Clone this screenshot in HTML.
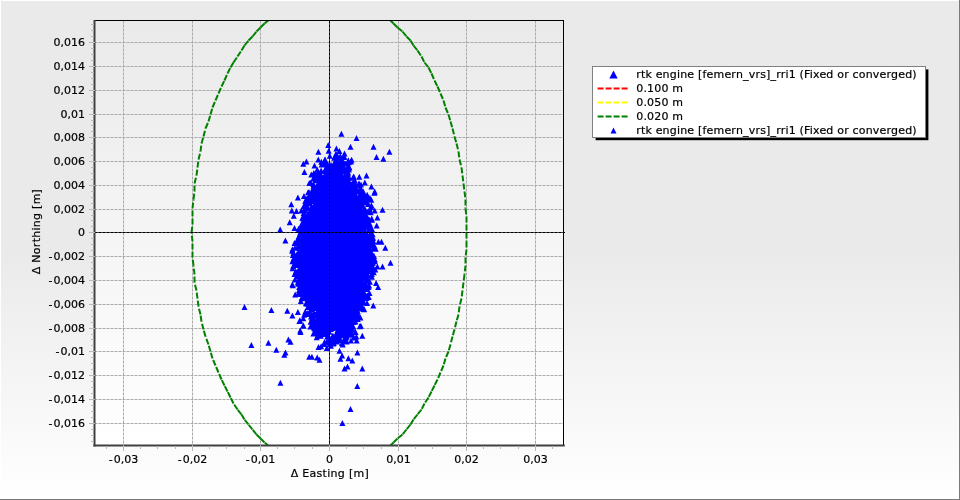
<!DOCTYPE html>
<html lang="en">
<head>
<meta charset="utf-8">
<title>Position scatter plot</title>
<style>
html,body{margin:0;padding:0;background:#fff;}
body{width:960px;height:500px;overflow:hidden;position:relative;font-family:"DejaVu Sans","Liberation Sans",sans-serif;}
svg{display:block;position:absolute;left:0;top:0;}
text{font-family:"DejaVu Sans","Liberation Sans",sans-serif;font-size:11px;fill:#000;stroke:#000;stroke-width:0.2px;}
.ls text{letter-spacing:0.19px;}
</style>
</head>
<body>
<svg width="960" height="500" viewBox="0 0 960 500">
<defs>
<linearGradient id="bg" x1="0" y1="0" x2="0" y2="1">
<stop offset="0" stop-color="#eaeaea"/>
<stop offset="0.5" stop-color="#eaeaea"/>
<stop offset="1" stop-color="#ffffff"/>
</linearGradient>
<linearGradient id="pbg" x1="0" y1="0" x2="0" y2="1">
<stop offset="0" stop-color="#eaeaea"/>
<stop offset="1" stop-color="#ffffff"/>
</linearGradient>
<clipPath id="clip"><rect x="95.0" y="20.0" width="468.0" height="425.0"/></clipPath>
</defs>
<rect x="0" y="0" width="960" height="500" fill="url(#bg)"/>
<rect x="0" y="0" width="960" height="1" fill="#ffffff"/>
<rect x="0" y="0" width="1" height="500" fill="#ffffff"/>
<rect x="0" y="499" width="960" height="1" fill="#7a7a7a"/>
<rect x="959" y="0" width="1" height="500" fill="#7a7a7a"/>
<rect x="95.0" y="20.0" width="468.0" height="425.0" fill="url(#pbg)"/>
<g stroke="#aaaaaa" stroke-width="1" stroke-dasharray="3 1" stroke-dashoffset="0.5" fill="none"><line x1="123.5" y1="20.5" x2="123.5" y2="445" stroke-dashoffset="0"/><line x1="192.5" y1="20.5" x2="192.5" y2="445" stroke-dashoffset="0"/><line x1="260.5" y1="20.5" x2="260.5" y2="445" stroke-dashoffset="0"/><line x1="398.5" y1="20.5" x2="398.5" y2="445" stroke-dashoffset="0"/><line x1="466.5" y1="20.5" x2="466.5" y2="445" stroke-dashoffset="0"/><line x1="535.5" y1="20.5" x2="535.5" y2="445" stroke-dashoffset="0"/><line x1="95" y1="423.5" x2="563" y2="423.5"/><line x1="95" y1="399.5" x2="563" y2="399.5"/><line x1="95" y1="375.5" x2="563" y2="375.5"/><line x1="95" y1="351.5" x2="563" y2="351.5"/><line x1="95" y1="328.5" x2="563" y2="328.5"/><line x1="95" y1="304.5" x2="563" y2="304.5"/><line x1="95" y1="280.5" x2="563" y2="280.5"/><line x1="95" y1="256.5" x2="563" y2="256.5"/><line x1="95" y1="209.5" x2="563" y2="209.5"/><line x1="95" y1="185.5" x2="563" y2="185.5"/><line x1="95" y1="161.5" x2="563" y2="161.5"/><line x1="95" y1="137.5" x2="563" y2="137.5"/><line x1="95" y1="114.5" x2="563" y2="114.5"/><line x1="95" y1="90.5" x2="563" y2="90.5"/><line x1="95" y1="66.5" x2="563" y2="66.5"/><line x1="95" y1="42.5" x2="563" y2="42.5"/></g>
<g stroke="#000" stroke-width="1" stroke-dasharray="3 1" stroke-dashoffset="0.5">
<line x1="95.0" y1="232.5" x2="563.0" y2="232.5"/>
<line x1="329.5" y1="20.5" x2="329.5" y2="445.0" stroke-dashoffset="0"/>
</g>
<g clip-path="url(#clip)">
<g fill="none" stroke="#008000" stroke-width="2" stroke-dasharray="6 2"><line x1="466.5" y1="232.5" x2="466.5" y2="241.5"/><line x1="466.5" y1="241.5" x2="466.5" y2="249.5"/><line x1="466.5" y1="249.5" x2="465.5" y2="257.5"/><line x1="465.5" y1="257.5" x2="465.5" y2="265.5"/><line x1="465.5" y1="265.5" x2="464.5" y2="274.5"/><line x1="464.5" y1="274.5" x2="463.5" y2="282.5"/><line x1="463.5" y1="282.5" x2="462.5" y2="290.5"/><line x1="462.5" y1="290.5" x2="461.5" y2="298.5"/><line x1="461.5" y1="298.5" x2="459.5" y2="306.5"/><line x1="459.5" y1="306.5" x2="458.5" y2="314.5"/><line x1="458.5" y1="314.5" x2="456.5" y2="321.5"/><line x1="456.5" y1="321.5" x2="454.5" y2="329.5"/><line x1="454.5" y1="329.5" x2="452.5" y2="336.5"/><line x1="452.5" y1="336.5" x2="450.5" y2="344.5"/><line x1="450.5" y1="344.5" x2="448.5" y2="351.5"/><line x1="448.5" y1="351.5" x2="445.5" y2="358.5"/><line x1="445.5" y1="358.5" x2="443.5" y2="365.5"/><line x1="443.5" y1="365.5" x2="440.5" y2="372.5"/><line x1="440.5" y1="372.5" x2="437.5" y2="379.5"/><line x1="437.5" y1="379.5" x2="434.5" y2="385.5"/><line x1="434.5" y1="385.5" x2="431.5" y2="391.5"/><line x1="431.5" y1="391.5" x2="428.5" y2="397.5"/><line x1="428.5" y1="397.5" x2="424.5" y2="403.5"/><line x1="424.5" y1="403.5" x2="421.5" y2="409.5"/><line x1="421.5" y1="409.5" x2="417.5" y2="414.5"/><line x1="417.5" y1="414.5" x2="413.5" y2="419.5"/><line x1="413.5" y1="419.5" x2="410.5" y2="424.5"/><line x1="410.5" y1="424.5" x2="406.5" y2="429.5"/><line x1="406.5" y1="429.5" x2="402.5" y2="434.5"/><line x1="402.5" y1="434.5" x2="397.5" y2="438.5"/><line x1="397.5" y1="438.5" x2="393.5" y2="442.5"/><line x1="393.5" y1="442.5" x2="389.5" y2="446.5"/><line x1="389.5" y1="446.5" x2="385.5" y2="449.5"/><line x1="273.5" y1="449.5" x2="269.5" y2="446.5"/><line x1="269.5" y1="446.5" x2="264.5" y2="442.5"/><line x1="264.5" y1="442.5" x2="260.5" y2="438.5"/><line x1="260.5" y1="438.5" x2="256.5" y2="434.5"/><line x1="256.5" y1="434.5" x2="252.5" y2="429.5"/><line x1="252.5" y1="429.5" x2="248.5" y2="424.5"/><line x1="248.5" y1="424.5" x2="244.5" y2="419.5"/><line x1="244.5" y1="419.5" x2="241.5" y2="414.5"/><line x1="241.5" y1="414.5" x2="237.5" y2="409.5"/><line x1="237.5" y1="409.5" x2="233.5" y2="403.5"/><line x1="233.5" y1="403.5" x2="230.5" y2="397.5"/><line x1="230.5" y1="397.5" x2="227.5" y2="391.5"/><line x1="227.5" y1="391.5" x2="224.5" y2="385.5"/><line x1="224.5" y1="385.5" x2="221.5" y2="379.5"/><line x1="221.5" y1="379.5" x2="218.5" y2="372.5"/><line x1="218.5" y1="372.5" x2="215.5" y2="365.5"/><line x1="215.5" y1="365.5" x2="212.5" y2="358.5"/><line x1="212.5" y1="358.5" x2="210.5" y2="351.5"/><line x1="210.5" y1="351.5" x2="208.5" y2="344.5"/><line x1="208.5" y1="344.5" x2="205.5" y2="336.5"/><line x1="205.5" y1="336.5" x2="203.5" y2="329.5"/><line x1="203.5" y1="329.5" x2="201.5" y2="321.5"/><line x1="201.5" y1="321.5" x2="200.5" y2="314.5"/><line x1="200.5" y1="314.5" x2="198.5" y2="306.5"/><line x1="198.5" y1="306.5" x2="197.5" y2="298.5"/><line x1="197.5" y1="298.5" x2="196.5" y2="290.5"/><line x1="196.5" y1="290.5" x2="194.5" y2="282.5"/><line x1="194.5" y1="282.5" x2="194.5" y2="274.5"/><line x1="194.5" y1="274.5" x2="193.5" y2="265.5"/><line x1="193.5" y1="265.5" x2="192.5" y2="257.5"/><line x1="192.5" y1="257.5" x2="192.5" y2="249.5"/><line x1="192.5" y1="249.5" x2="192.5" y2="241.5"/><line x1="192.5" y1="241.5" x2="191.5" y2="232.5"/><line x1="191.5" y1="232.5" x2="192.5" y2="224.5"/><line x1="192.5" y1="224.5" x2="192.5" y2="216.5"/><line x1="192.5" y1="216.5" x2="192.5" y2="208.5"/><line x1="192.5" y1="208.5" x2="193.5" y2="199.5"/><line x1="193.5" y1="199.5" x2="194.5" y2="191.5"/><line x1="194.5" y1="191.5" x2="194.5" y2="183.5"/><line x1="194.5" y1="183.5" x2="196.5" y2="175.5"/><line x1="196.5" y1="175.5" x2="197.5" y2="167.5"/><line x1="197.5" y1="167.5" x2="198.5" y2="159.5"/><line x1="198.5" y1="159.5" x2="200.5" y2="151.5"/><line x1="200.5" y1="151.5" x2="201.5" y2="143.5"/><line x1="201.5" y1="143.5" x2="203.5" y2="136.5"/><line x1="203.5" y1="136.5" x2="205.5" y2="128.5"/><line x1="205.5" y1="128.5" x2="208.5" y2="121.5"/><line x1="208.5" y1="121.5" x2="210.5" y2="114.5"/><line x1="210.5" y1="114.5" x2="212.5" y2="107.5"/><line x1="212.5" y1="107.5" x2="215.5" y2="100.5"/><line x1="215.5" y1="100.5" x2="218.5" y2="93.5"/><line x1="218.5" y1="93.5" x2="221.5" y2="86.5"/><line x1="221.5" y1="86.5" x2="224.5" y2="80.5"/><line x1="224.5" y1="80.5" x2="227.5" y2="73.5"/><line x1="227.5" y1="73.5" x2="230.5" y2="67.5"/><line x1="230.5" y1="67.5" x2="233.5" y2="62.5"/><line x1="233.5" y1="62.5" x2="237.5" y2="56.5"/><line x1="237.5" y1="56.5" x2="241.5" y2="50.5"/><line x1="241.5" y1="50.5" x2="244.5" y2="45.5"/><line x1="244.5" y1="45.5" x2="248.5" y2="40.5"/><line x1="248.5" y1="40.5" x2="252.5" y2="36.5"/><line x1="252.5" y1="36.5" x2="256.5" y2="31.5"/><line x1="256.5" y1="31.5" x2="260.5" y2="27.5"/><line x1="260.5" y1="27.5" x2="264.5" y2="23.5"/><line x1="264.5" y1="23.5" x2="269.5" y2="19.5"/><line x1="269.5" y1="19.5" x2="273.5" y2="15.5"/><line x1="385.5" y1="15.5" x2="389.5" y2="19.5"/><line x1="389.5" y1="19.5" x2="393.5" y2="23.5"/><line x1="393.5" y1="23.5" x2="397.5" y2="27.5"/><line x1="397.5" y1="27.5" x2="402.5" y2="31.5"/><line x1="402.5" y1="31.5" x2="406.5" y2="36.5"/><line x1="406.5" y1="36.5" x2="410.5" y2="40.5"/><line x1="410.5" y1="40.5" x2="413.5" y2="45.5"/><line x1="413.5" y1="45.5" x2="417.5" y2="50.5"/><line x1="417.5" y1="50.5" x2="421.5" y2="56.5"/><line x1="421.5" y1="56.5" x2="424.5" y2="62.5"/><line x1="424.5" y1="62.5" x2="428.5" y2="67.5"/><line x1="428.5" y1="67.5" x2="431.5" y2="73.5"/><line x1="431.5" y1="73.5" x2="434.5" y2="80.5"/><line x1="434.5" y1="80.5" x2="437.5" y2="86.5"/><line x1="437.5" y1="86.5" x2="440.5" y2="93.5"/><line x1="440.5" y1="93.5" x2="443.5" y2="100.5"/><line x1="443.5" y1="100.5" x2="445.5" y2="107.5"/><line x1="445.5" y1="107.5" x2="448.5" y2="114.5"/><line x1="448.5" y1="114.5" x2="450.5" y2="121.5"/><line x1="450.5" y1="121.5" x2="452.5" y2="128.5"/><line x1="452.5" y1="128.5" x2="454.5" y2="136.5"/><line x1="454.5" y1="136.5" x2="456.5" y2="143.5"/><line x1="456.5" y1="143.5" x2="458.5" y2="151.5"/><line x1="458.5" y1="151.5" x2="459.5" y2="159.5"/><line x1="459.5" y1="159.5" x2="461.5" y2="167.5"/><line x1="461.5" y1="167.5" x2="462.5" y2="175.5"/><line x1="462.5" y1="175.5" x2="463.5" y2="183.5"/><line x1="463.5" y1="183.5" x2="464.5" y2="191.5"/><line x1="464.5" y1="191.5" x2="465.5" y2="199.5"/><line x1="465.5" y1="199.5" x2="465.5" y2="208.5"/><line x1="465.5" y1="208.5" x2="466.5" y2="216.5"/><line x1="466.5" y1="216.5" x2="466.5" y2="224.5"/><line x1="466.5" y1="224.5" x2="466.5" y2="232.5"/></g>
<g fill="#0000ff">
<polygon points="337.0,170.0 335.5,172.0 333.0,174.0 330.5,176.0 327.5,178.0 324.0,180.0 320.5,182.0 319.0,184.0 318.5,186.0 317.5,188.0 317.0,190.0 316.0,192.0 316.0,194.0 315.5,196.0 315.5,198.0 315.0,200.0 314.5,202.0 314.0,204.0 313.5,206.0 313.5,208.0 312.5,210.0 312.0,212.0 311.5,214.0 311.0,216.0 310.5,218.0 310.0,220.0 309.5,222.0 309.0,224.0 308.5,226.0 308.5,228.0 308.0,230.0 307.5,232.0 307.0,234.0 306.5,236.0 306.5,238.0 305.5,240.0 305.0,242.0 304.5,244.0 304.0,246.0 303.5,248.0 302.5,250.0 302.0,252.0 301.5,254.0 301.0,256.0 301.0,258.0 301.5,260.0 301.5,262.0 302.0,264.0 302.0,266.0 302.0,268.0 302.0,270.0 302.0,272.0 302.0,274.0 302.0,276.0 302.0,278.0 303.0,280.0 304.0,282.0 305.0,284.0 306.0,286.0 307.0,288.0 308.0,290.0 308.5,292.0 309.5,294.0 310.0,296.0 311.0,298.0 312.0,300.0 312.5,302.0 313.5,304.0 314.0,306.0 315.0,308.0 315.5,310.0 316.5,312.0 317.0,314.0 317.5,316.0 318.0,318.0 319.5,320.0 321.5,322.0 324.0,324.0 327.0,326.0 344.0,326.0 347.0,324.0 348.5,322.0 349.5,320.0 350.0,318.0 350.5,316.0 351.0,314.0 351.5,312.0 352.5,310.0 353.0,308.0 354.0,306.0 355.0,304.0 355.5,302.0 356.5,300.0 357.5,298.0 358.5,296.0 359.0,294.0 360.0,292.0 360.5,290.0 361.5,288.0 362.0,286.0 362.5,284.0 363.0,282.0 363.5,280.0 364.0,278.0 364.5,276.0 365.0,274.0 365.5,272.0 366.0,270.0 366.5,268.0 367.0,266.0 367.0,264.0 367.0,262.0 367.0,260.0 367.0,258.0 367.0,256.0 367.0,254.0 367.5,252.0 367.0,250.0 366.5,248.0 366.5,246.0 366.0,244.0 366.0,242.0 365.5,240.0 365.5,238.0 365.0,236.0 365.0,234.0 365.0,232.0 364.5,230.0 364.5,228.0 364.0,226.0 364.0,224.0 364.0,222.0 363.5,220.0 363.5,218.0 363.0,216.0 363.0,214.0 362.5,212.0 362.5,210.0 361.5,208.0 360.0,206.0 359.0,204.0 358.0,202.0 356.5,200.0 354.5,198.0 352.5,196.0 351.0,194.0 350.0,192.0 349.0,190.0 348.5,188.0 347.5,186.0 346.0,184.0 345.0,182.0 344.5,180.0 343.5,178.0 343.5,176.0 343.0,174.0 341.5,172.0 339.5,170.0"/>
<path d="M300.3 244.5l-3.0 6.0h6.0zM369.1 282.6l-3.0 6.0h6.0zM305.3 197.7l-3.0 6.0h6.0zM364.3 221.1l-3.0 6.0h6.0zM365.6 193.7l-3.0 6.0h6.0zM299.5 254.5l-3.0 6.0h6.0zM301.0 290.7l-3.0 6.0h6.0zM313.5 322.8l-3.0 6.0h6.0zM365.0 206.1l-3.0 6.0h6.0zM299.3 288.3l-3.0 6.0h6.0zM373.8 266.0l-3.0 6.0h6.0zM344.3 166.5l-3.0 6.0h6.0zM361.1 284.8l-3.0 6.0h6.0zM347.6 330.3l-3.0 6.0h6.0zM354.6 179.5l-3.0 6.0h6.0zM328.6 324.3l-3.0 6.0h6.0zM353.2 178.7l-3.0 6.0h6.0zM329.8 152.7l-3.0 6.0h6.0zM314.0 303.2l-3.0 6.0h6.0zM352.1 306.6l-3.0 6.0h6.0zM363.2 219.6l-3.0 6.0h6.0zM348.8 328.1l-3.0 6.0h6.0zM342.6 321.7l-3.0 6.0h6.0zM364.5 239.4l-3.0 6.0h6.0zM334.2 336.3l-3.0 6.0h6.0zM304.4 247.6l-3.0 6.0h6.0zM302.1 249.5l-3.0 6.0h6.0zM305.0 281.3l-3.0 6.0h6.0zM301.8 248.4l-3.0 6.0h6.0zM302.5 269.6l-3.0 6.0h6.0zM359.9 191.5l-3.0 6.0h6.0zM342.6 167.8l-3.0 6.0h6.0zM364.1 205.6l-3.0 6.0h6.0zM357.1 314.3l-3.0 6.0h6.0zM324.6 178.0l-3.0 6.0h6.0zM356.4 298.1l-3.0 6.0h6.0zM348.6 185.7l-3.0 6.0h6.0zM357.1 297.0l-3.0 6.0h6.0zM361.3 190.9l-3.0 6.0h6.0zM297.6 236.1l-3.0 6.0h6.0zM358.8 199.2l-3.0 6.0h6.0zM303.4 226.1l-3.0 6.0h6.0zM355.4 199.8l-3.0 6.0h6.0zM356.3 196.4l-3.0 6.0h6.0zM368.3 201.0l-3.0 6.0h6.0zM307.3 213.0l-3.0 6.0h6.0zM322.6 177.9l-3.0 6.0h6.0zM367.7 250.5l-3.0 6.0h6.0zM351.4 188.5l-3.0 6.0h6.0zM364.1 219.8l-3.0 6.0h6.0zM358.1 305.5l-3.0 6.0h6.0zM369.9 237.7l-3.0 6.0h6.0zM315.4 191.5l-3.0 6.0h6.0zM338.8 168.6l-3.0 6.0h6.0zM302.9 251.1l-3.0 6.0h6.0zM314.3 202.3l-3.0 6.0h6.0zM302.7 266.4l-3.0 6.0h6.0zM312.8 207.9l-3.0 6.0h6.0zM353.3 190.9l-3.0 6.0h6.0zM360.5 206.2l-3.0 6.0h6.0zM316.5 310.6l-3.0 6.0h6.0zM366.9 275.6l-3.0 6.0h6.0zM370.8 265.4l-3.0 6.0h6.0zM335.0 166.8l-3.0 6.0h6.0zM358.7 312.5l-3.0 6.0h6.0zM369.9 263.3l-3.0 6.0h6.0zM340.3 153.0l-3.0 6.0h6.0zM331.5 167.0l-3.0 6.0h6.0zM342.6 173.5l-3.0 6.0h6.0zM355.8 296.2l-3.0 6.0h6.0zM342.3 327.1l-3.0 6.0h6.0zM353.2 319.0l-3.0 6.0h6.0zM339.1 336.7l-3.0 6.0h6.0zM369.7 220.4l-3.0 6.0h6.0zM359.8 202.7l-3.0 6.0h6.0zM367.0 215.2l-3.0 6.0h6.0zM362.6 217.8l-3.0 6.0h6.0zM366.1 245.5l-3.0 6.0h6.0zM346.9 186.4l-3.0 6.0h6.0zM306.0 239.7l-3.0 6.0h6.0zM364.0 291.2l-3.0 6.0h6.0zM306.6 233.9l-3.0 6.0h6.0zM303.7 210.0l-3.0 6.0h6.0zM340.5 171.4l-3.0 6.0h6.0zM303.6 235.2l-3.0 6.0h6.0zM354.7 318.2l-3.0 6.0h6.0zM309.5 212.8l-3.0 6.0h6.0zM296.6 262.0l-3.0 6.0h6.0zM339.8 165.6l-3.0 6.0h6.0zM308.6 289.4l-3.0 6.0h6.0zM312.1 209.4l-3.0 6.0h6.0zM332.3 172.0l-3.0 6.0h6.0zM318.2 324.3l-3.0 6.0h6.0zM322.0 328.0l-3.0 6.0h6.0zM305.1 279.8l-3.0 6.0h6.0zM318.1 323.1l-3.0 6.0h6.0zM311.4 294.3l-3.0 6.0h6.0zM299.6 244.9l-3.0 6.0h6.0zM364.9 237.9l-3.0 6.0h6.0zM307.7 287.3l-3.0 6.0h6.0zM353.6 185.5l-3.0 6.0h6.0zM311.5 290.6l-3.0 6.0h6.0zM314.0 305.1l-3.0 6.0h6.0zM311.2 219.3l-3.0 6.0h6.0zM295.8 268.3l-3.0 6.0h6.0zM305.0 238.3l-3.0 6.0h6.0zM368.8 220.1l-3.0 6.0h6.0zM305.0 218.6l-3.0 6.0h6.0zM352.3 307.3l-3.0 6.0h6.0zM296.3 270.3l-3.0 6.0h6.0zM350.8 181.6l-3.0 6.0h6.0zM361.2 202.7l-3.0 6.0h6.0zM366.6 240.1l-3.0 6.0h6.0zM318.0 318.6l-3.0 6.0h6.0zM347.9 326.4l-3.0 6.0h6.0zM349.2 321.1l-3.0 6.0h6.0zM301.7 277.4l-3.0 6.0h6.0zM335.7 334.7l-3.0 6.0h6.0zM328.5 337.4l-3.0 6.0h6.0zM306.9 223.4l-3.0 6.0h6.0zM303.0 214.7l-3.0 6.0h6.0zM360.4 300.0l-3.0 6.0h6.0zM293.7 256.3l-3.0 6.0h6.0zM312.3 300.3l-3.0 6.0h6.0zM303.9 231.9l-3.0 6.0h6.0zM347.3 318.4l-3.0 6.0h6.0zM360.8 286.6l-3.0 6.0h6.0zM308.4 214.3l-3.0 6.0h6.0zM309.7 304.1l-3.0 6.0h6.0zM328.1 161.8l-3.0 6.0h6.0zM341.6 330.7l-3.0 6.0h6.0zM344.4 179.4l-3.0 6.0h6.0zM356.7 186.1l-3.0 6.0h6.0zM305.4 295.2l-3.0 6.0h6.0zM313.7 315.0l-3.0 6.0h6.0zM364.1 306.2l-3.0 6.0h6.0zM301.9 249.3l-3.0 6.0h6.0zM309.1 189.3l-3.0 6.0h6.0zM312.2 190.1l-3.0 6.0h6.0zM311.4 195.3l-3.0 6.0h6.0zM314.0 320.1l-3.0 6.0h6.0zM300.3 247.6l-3.0 6.0h6.0zM337.1 338.5l-3.0 6.0h6.0zM307.9 237.6l-3.0 6.0h6.0zM316.6 187.0l-3.0 6.0h6.0zM366.9 250.4l-3.0 6.0h6.0zM317.6 332.5l-3.0 6.0h6.0zM313.8 175.4l-3.0 6.0h6.0zM337.9 335.9l-3.0 6.0h6.0zM373.1 234.7l-3.0 6.0h6.0zM361.0 181.4l-3.0 6.0h6.0zM319.2 322.6l-3.0 6.0h6.0zM298.8 288.9l-3.0 6.0h6.0zM372.5 242.6l-3.0 6.0h6.0zM355.4 304.5l-3.0 6.0h6.0zM365.3 282.8l-3.0 6.0h6.0zM314.8 194.3l-3.0 6.0h6.0zM316.7 195.7l-3.0 6.0h6.0zM361.9 189.5l-3.0 6.0h6.0zM305.9 236.5l-3.0 6.0h6.0zM355.4 297.1l-3.0 6.0h6.0zM300.8 297.9l-3.0 6.0h6.0zM296.5 252.8l-3.0 6.0h6.0zM359.2 289.6l-3.0 6.0h6.0zM364.4 273.0l-3.0 6.0h6.0zM328.1 163.8l-3.0 6.0h6.0zM323.9 323.3l-3.0 6.0h6.0zM367.0 285.7l-3.0 6.0h6.0zM313.4 299.3l-3.0 6.0h6.0zM332.1 321.7l-3.0 6.0h6.0zM366.4 221.3l-3.0 6.0h6.0zM361.5 199.2l-3.0 6.0h6.0zM358.3 297.0l-3.0 6.0h6.0zM334.5 172.1l-3.0 6.0h6.0zM311.8 306.3l-3.0 6.0h6.0zM355.9 311.0l-3.0 6.0h6.0zM310.1 212.3l-3.0 6.0h6.0zM367.3 292.2l-3.0 6.0h6.0zM317.1 321.5l-3.0 6.0h6.0zM346.0 318.1l-3.0 6.0h6.0zM307.4 198.4l-3.0 6.0h6.0zM367.6 267.3l-3.0 6.0h6.0zM354.2 182.5l-3.0 6.0h6.0zM352.2 182.0l-3.0 6.0h6.0zM308.5 310.9l-3.0 6.0h6.0zM363.7 288.7l-3.0 6.0h6.0zM346.2 329.4l-3.0 6.0h6.0zM302.1 271.5l-3.0 6.0h6.0zM298.6 249.5l-3.0 6.0h6.0zM301.3 207.5l-3.0 6.0h6.0zM339.6 334.4l-3.0 6.0h6.0zM343.5 323.9l-3.0 6.0h6.0zM342.0 164.6l-3.0 6.0h6.0zM310.8 204.8l-3.0 6.0h6.0zM301.9 253.9l-3.0 6.0h6.0zM347.8 171.0l-3.0 6.0h6.0zM325.5 175.5l-3.0 6.0h6.0zM338.5 163.9l-3.0 6.0h6.0zM370.7 209.3l-3.0 6.0h6.0zM311.6 299.6l-3.0 6.0h6.0zM323.4 330.3l-3.0 6.0h6.0zM364.0 230.3l-3.0 6.0h6.0zM320.5 323.6l-3.0 6.0h6.0zM333.1 164.8l-3.0 6.0h6.0zM303.5 230.6l-3.0 6.0h6.0zM335.4 166.4l-3.0 6.0h6.0zM363.5 207.7l-3.0 6.0h6.0zM331.0 161.8l-3.0 6.0h6.0zM354.4 314.2l-3.0 6.0h6.0zM350.7 189.8l-3.0 6.0h6.0zM321.6 161.6l-3.0 6.0h6.0zM350.2 324.3l-3.0 6.0h6.0zM308.0 296.4l-3.0 6.0h6.0zM310.6 290.1l-3.0 6.0h6.0zM315.9 177.2l-3.0 6.0h6.0zM363.4 272.6l-3.0 6.0h6.0zM365.6 277.6l-3.0 6.0h6.0zM371.9 216.8l-3.0 6.0h6.0zM359.2 300.0l-3.0 6.0h6.0zM322.0 174.0l-3.0 6.0h6.0zM361.1 200.6l-3.0 6.0h6.0zM307.0 290.6l-3.0 6.0h6.0zM341.9 167.3l-3.0 6.0h6.0zM313.8 322.5l-3.0 6.0h6.0zM365.5 194.8l-3.0 6.0h6.0zM358.0 290.6l-3.0 6.0h6.0zM362.1 298.1l-3.0 6.0h6.0zM359.6 305.5l-3.0 6.0h6.0zM340.3 159.8l-3.0 6.0h6.0zM350.2 318.2l-3.0 6.0h6.0zM330.9 325.4l-3.0 6.0h6.0zM301.5 248.5l-3.0 6.0h6.0zM307.8 310.0l-3.0 6.0h6.0zM344.0 152.9l-3.0 6.0h6.0zM370.0 241.2l-3.0 6.0h6.0zM320.4 177.0l-3.0 6.0h6.0zM371.0 248.8l-3.0 6.0h6.0zM368.4 264.3l-3.0 6.0h6.0zM295.8 240.1l-3.0 6.0h6.0zM364.1 236.4l-3.0 6.0h6.0zM296.0 256.5l-3.0 6.0h6.0zM347.1 319.1l-3.0 6.0h6.0zM311.8 296.5l-3.0 6.0h6.0zM363.0 194.3l-3.0 6.0h6.0zM310.7 179.6l-3.0 6.0h6.0zM298.9 271.9l-3.0 6.0h6.0zM303.7 291.0l-3.0 6.0h6.0zM311.7 215.2l-3.0 6.0h6.0zM360.8 288.0l-3.0 6.0h6.0zM298.3 244.4l-3.0 6.0h6.0zM299.5 286.6l-3.0 6.0h6.0zM308.0 286.7l-3.0 6.0h6.0zM370.0 194.9l-3.0 6.0h6.0zM354.1 187.4l-3.0 6.0h6.0zM300.6 243.1l-3.0 6.0h6.0zM305.0 281.6l-3.0 6.0h6.0zM351.0 158.6l-3.0 6.0h6.0zM364.4 230.7l-3.0 6.0h6.0zM307.3 300.8l-3.0 6.0h6.0zM336.3 167.9l-3.0 6.0h6.0zM307.9 221.7l-3.0 6.0h6.0zM366.2 252.7l-3.0 6.0h6.0zM297.2 269.2l-3.0 6.0h6.0zM305.8 243.7l-3.0 6.0h6.0zM300.7 247.1l-3.0 6.0h6.0zM338.5 321.9l-3.0 6.0h6.0zM352.7 189.1l-3.0 6.0h6.0zM332.4 336.8l-3.0 6.0h6.0zM367.0 195.7l-3.0 6.0h6.0zM299.6 242.9l-3.0 6.0h6.0zM342.5 320.4l-3.0 6.0h6.0zM374.0 252.8l-3.0 6.0h6.0zM324.3 326.5l-3.0 6.0h6.0zM299.6 290.6l-3.0 6.0h6.0zM318.3 188.0l-3.0 6.0h6.0zM353.7 334.5l-3.0 6.0h6.0zM313.4 175.3l-3.0 6.0h6.0zM366.3 243.3l-3.0 6.0h6.0zM339.4 169.5l-3.0 6.0h6.0zM332.5 173.1l-3.0 6.0h6.0zM366.0 246.3l-3.0 6.0h6.0zM302.9 239.8l-3.0 6.0h6.0zM325.3 174.6l-3.0 6.0h6.0zM367.4 245.3l-3.0 6.0h6.0zM300.0 243.7l-3.0 6.0h6.0zM361.4 201.7l-3.0 6.0h6.0zM360.5 294.1l-3.0 6.0h6.0zM373.8 269.2l-3.0 6.0h6.0zM351.4 311.6l-3.0 6.0h6.0zM366.7 260.4l-3.0 6.0h6.0zM359.7 296.5l-3.0 6.0h6.0zM308.4 293.6l-3.0 6.0h6.0zM367.9 248.5l-3.0 6.0h6.0zM348.9 164.0l-3.0 6.0h6.0zM365.2 232.2l-3.0 6.0h6.0zM301.7 233.3l-3.0 6.0h6.0zM336.6 151.7l-3.0 6.0h6.0zM303.4 259.5l-3.0 6.0h6.0zM372.6 231.3l-3.0 6.0h6.0zM304.3 223.2l-3.0 6.0h6.0zM330.2 338.9l-3.0 6.0h6.0zM299.6 251.8l-3.0 6.0h6.0zM365.6 210.9l-3.0 6.0h6.0zM318.6 173.4l-3.0 6.0h6.0zM361.5 282.0l-3.0 6.0h6.0zM300.9 242.2l-3.0 6.0h6.0zM304.9 238.9l-3.0 6.0h6.0zM362.8 198.7l-3.0 6.0h6.0zM355.4 308.1l-3.0 6.0h6.0zM365.2 291.6l-3.0 6.0h6.0zM334.1 334.5l-3.0 6.0h6.0zM316.7 172.7l-3.0 6.0h6.0zM304.7 283.7l-3.0 6.0h6.0zM351.9 331.7l-3.0 6.0h6.0zM318.5 180.9l-3.0 6.0h6.0zM320.4 181.5l-3.0 6.0h6.0zM308.1 223.0l-3.0 6.0h6.0zM301.8 258.0l-3.0 6.0h6.0zM358.6 291.6l-3.0 6.0h6.0zM349.9 184.7l-3.0 6.0h6.0zM312.8 299.0l-3.0 6.0h6.0zM365.0 198.7l-3.0 6.0h6.0zM308.1 294.5l-3.0 6.0h6.0zM360.7 291.8l-3.0 6.0h6.0zM327.3 170.1l-3.0 6.0h6.0zM325.2 327.3l-3.0 6.0h6.0zM312.6 296.5l-3.0 6.0h6.0zM344.9 320.7l-3.0 6.0h6.0zM309.5 217.0l-3.0 6.0h6.0zM320.7 328.9l-3.0 6.0h6.0zM302.7 244.2l-3.0 6.0h6.0zM366.5 284.4l-3.0 6.0h6.0zM343.0 332.2l-3.0 6.0h6.0zM370.0 246.3l-3.0 6.0h6.0zM357.8 308.3l-3.0 6.0h6.0zM305.3 308.4l-3.0 6.0h6.0zM361.6 212.0l-3.0 6.0h6.0zM354.9 177.6l-3.0 6.0h6.0zM374.5 242.7l-3.0 6.0h6.0zM345.0 334.4l-3.0 6.0h6.0zM369.8 265.2l-3.0 6.0h6.0zM368.0 251.1l-3.0 6.0h6.0zM363.8 219.1l-3.0 6.0h6.0zM299.7 264.7l-3.0 6.0h6.0zM308.5 213.2l-3.0 6.0h6.0zM300.1 245.8l-3.0 6.0h6.0zM363.6 223.8l-3.0 6.0h6.0zM305.9 300.2l-3.0 6.0h6.0zM363.5 275.1l-3.0 6.0h6.0zM306.4 291.9l-3.0 6.0h6.0zM318.9 322.5l-3.0 6.0h6.0zM303.3 255.3l-3.0 6.0h6.0zM314.9 194.0l-3.0 6.0h6.0zM313.4 330.4l-3.0 6.0h6.0zM355.7 192.3l-3.0 6.0h6.0zM351.4 314.7l-3.0 6.0h6.0zM352.4 192.0l-3.0 6.0h6.0zM315.4 330.6l-3.0 6.0h6.0zM341.5 161.3l-3.0 6.0h6.0zM296.8 273.5l-3.0 6.0h6.0zM366.2 198.3l-3.0 6.0h6.0zM364.6 209.0l-3.0 6.0h6.0zM310.6 223.4l-3.0 6.0h6.0zM307.7 226.1l-3.0 6.0h6.0zM359.3 286.1l-3.0 6.0h6.0zM353.7 318.8l-3.0 6.0h6.0zM361.5 283.1l-3.0 6.0h6.0zM364.7 238.7l-3.0 6.0h6.0zM355.6 328.9l-3.0 6.0h6.0zM324.3 329.8l-3.0 6.0h6.0zM299.9 277.2l-3.0 6.0h6.0zM314.0 299.7l-3.0 6.0h6.0zM302.7 295.0l-3.0 6.0h6.0zM339.1 164.9l-3.0 6.0h6.0zM300.7 270.6l-3.0 6.0h6.0zM359.5 206.9l-3.0 6.0h6.0zM333.4 174.2l-3.0 6.0h6.0zM369.9 278.7l-3.0 6.0h6.0zM313.0 185.5l-3.0 6.0h6.0zM355.1 305.0l-3.0 6.0h6.0zM309.3 303.7l-3.0 6.0h6.0zM348.2 169.4l-3.0 6.0h6.0zM314.6 195.0l-3.0 6.0h6.0zM342.7 164.9l-3.0 6.0h6.0zM353.2 173.9l-3.0 6.0h6.0zM304.1 311.7l-3.0 6.0h6.0zM340.1 164.5l-3.0 6.0h6.0zM371.8 271.1l-3.0 6.0h6.0zM303.1 280.3l-3.0 6.0h6.0zM352.0 189.3l-3.0 6.0h6.0zM300.0 247.3l-3.0 6.0h6.0zM299.4 275.6l-3.0 6.0h6.0zM309.8 195.5l-3.0 6.0h6.0zM316.2 200.0l-3.0 6.0h6.0zM318.8 185.2l-3.0 6.0h6.0zM366.6 199.6l-3.0 6.0h6.0zM311.7 312.4l-3.0 6.0h6.0zM367.2 251.1l-3.0 6.0h6.0zM365.2 273.3l-3.0 6.0h6.0zM298.1 271.1l-3.0 6.0h6.0zM299.5 283.3l-3.0 6.0h6.0zM304.1 285.4l-3.0 6.0h6.0zM320.5 321.4l-3.0 6.0h6.0zM299.5 268.5l-3.0 6.0h6.0zM331.7 168.7l-3.0 6.0h6.0zM312.3 194.6l-3.0 6.0h6.0zM326.1 159.7l-3.0 6.0h6.0zM301.7 265.3l-3.0 6.0h6.0zM311.1 305.8l-3.0 6.0h6.0zM312.4 315.0l-3.0 6.0h6.0zM303.9 249.1l-3.0 6.0h6.0zM319.5 174.7l-3.0 6.0h6.0zM302.7 226.8l-3.0 6.0h6.0zM364.3 282.5l-3.0 6.0h6.0zM360.8 288.0l-3.0 6.0h6.0zM317.2 304.7l-3.0 6.0h6.0zM358.0 188.3l-3.0 6.0h6.0zM363.2 229.5l-3.0 6.0h6.0zM343.6 163.0l-3.0 6.0h6.0zM305.5 236.6l-3.0 6.0h6.0zM365.2 221.0l-3.0 6.0h6.0zM299.2 283.9l-3.0 6.0h6.0zM301.8 248.1l-3.0 6.0h6.0zM317.7 327.7l-3.0 6.0h6.0zM312.6 319.4l-3.0 6.0h6.0zM311.5 216.3l-3.0 6.0h6.0zM331.8 325.1l-3.0 6.0h6.0zM364.7 230.4l-3.0 6.0h6.0zM360.7 185.1l-3.0 6.0h6.0zM297.1 259.3l-3.0 6.0h6.0zM320.9 315.9l-3.0 6.0h6.0zM346.3 180.0l-3.0 6.0h6.0zM308.4 214.1l-3.0 6.0h6.0zM297.6 238.4l-3.0 6.0h6.0zM366.8 231.0l-3.0 6.0h6.0zM352.6 190.6l-3.0 6.0h6.0zM300.7 250.9l-3.0 6.0h6.0zM296.9 251.3l-3.0 6.0h6.0zM347.4 321.5l-3.0 6.0h6.0zM369.8 205.8l-3.0 6.0h6.0zM344.1 154.0l-3.0 6.0h6.0zM311.9 212.5l-3.0 6.0h6.0zM345.7 325.4l-3.0 6.0h6.0zM303.2 219.3l-3.0 6.0h6.0zM304.7 228.9l-3.0 6.0h6.0zM307.7 288.2l-3.0 6.0h6.0zM365.0 216.1l-3.0 6.0h6.0zM307.7 228.4l-3.0 6.0h6.0zM353.6 304.1l-3.0 6.0h6.0zM350.0 324.6l-3.0 6.0h6.0zM340.9 171.7l-3.0 6.0h6.0zM302.5 277.6l-3.0 6.0h6.0zM363.4 224.0l-3.0 6.0h6.0zM351.4 309.9l-3.0 6.0h6.0zM307.1 195.0l-3.0 6.0h6.0zM311.0 313.4l-3.0 6.0h6.0zM343.6 337.7l-3.0 6.0h6.0zM360.6 299.9l-3.0 6.0h6.0zM305.4 285.0l-3.0 6.0h6.0zM362.4 214.5l-3.0 6.0h6.0zM314.2 203.7l-3.0 6.0h6.0zM318.1 329.5l-3.0 6.0h6.0zM358.1 291.3l-3.0 6.0h6.0zM367.4 293.7l-3.0 6.0h6.0zM348.8 178.0l-3.0 6.0h6.0zM332.6 172.7l-3.0 6.0h6.0zM317.2 166.4l-3.0 6.0h6.0zM331.6 165.7l-3.0 6.0h6.0zM346.5 180.0l-3.0 6.0h6.0zM363.1 216.0l-3.0 6.0h6.0zM348.9 166.5l-3.0 6.0h6.0zM335.9 167.1l-3.0 6.0h6.0zM302.7 269.7l-3.0 6.0h6.0zM299.4 260.9l-3.0 6.0h6.0zM309.3 194.5l-3.0 6.0h6.0zM352.4 331.5l-3.0 6.0h6.0zM366.6 268.7l-3.0 6.0h6.0zM341.6 324.9l-3.0 6.0h6.0zM326.2 331.1l-3.0 6.0h6.0zM322.9 180.8l-3.0 6.0h6.0zM362.3 280.1l-3.0 6.0h6.0zM307.0 280.0l-3.0 6.0h6.0zM329.9 174.8l-3.0 6.0h6.0zM365.1 241.0l-3.0 6.0h6.0zM363.3 188.9l-3.0 6.0h6.0zM301.2 230.6l-3.0 6.0h6.0zM368.9 233.8l-3.0 6.0h6.0zM366.8 256.7l-3.0 6.0h6.0zM300.7 260.2l-3.0 6.0h6.0zM346.3 177.4l-3.0 6.0h6.0zM333.7 161.9l-3.0 6.0h6.0zM313.4 210.2l-3.0 6.0h6.0zM302.7 243.8l-3.0 6.0h6.0zM344.0 159.9l-3.0 6.0h6.0zM292.2 247.8l-3.0 6.0h6.0zM332.9 173.3l-3.0 6.0h6.0zM337.5 321.2l-3.0 6.0h6.0zM343.0 322.1l-3.0 6.0h6.0zM366.7 257.8l-3.0 6.0h6.0zM365.8 270.5l-3.0 6.0h6.0zM302.1 287.3l-3.0 6.0h6.0zM303.8 273.2l-3.0 6.0h6.0zM364.3 232.7l-3.0 6.0h6.0zM319.1 183.7l-3.0 6.0h6.0zM312.0 315.1l-3.0 6.0h6.0zM294.5 253.5l-3.0 6.0h6.0zM309.3 180.0l-3.0 6.0h6.0zM301.5 284.1l-3.0 6.0h6.0zM303.4 244.5l-3.0 6.0h6.0zM318.7 312.6l-3.0 6.0h6.0zM368.6 226.4l-3.0 6.0h6.0zM363.3 188.4l-3.0 6.0h6.0zM355.5 318.5l-3.0 6.0h6.0zM353.3 191.0l-3.0 6.0h6.0zM358.1 304.7l-3.0 6.0h6.0zM368.3 264.2l-3.0 6.0h6.0zM356.1 312.2l-3.0 6.0h6.0zM319.3 318.9l-3.0 6.0h6.0zM360.6 208.1l-3.0 6.0h6.0zM307.3 292.3l-3.0 6.0h6.0zM368.8 293.9l-3.0 6.0h6.0zM309.7 220.3l-3.0 6.0h6.0zM319.8 184.5l-3.0 6.0h6.0zM350.9 308.9l-3.0 6.0h6.0zM301.4 252.1l-3.0 6.0h6.0zM365.7 256.4l-3.0 6.0h6.0zM369.8 232.6l-3.0 6.0h6.0zM317.2 185.5l-3.0 6.0h6.0zM336.3 162.8l-3.0 6.0h6.0zM305.7 237.0l-3.0 6.0h6.0zM371.4 202.3l-3.0 6.0h6.0zM364.0 215.1l-3.0 6.0h6.0zM354.5 190.6l-3.0 6.0h6.0zM329.5 341.0l-3.0 6.0h6.0zM313.9 304.2l-3.0 6.0h6.0zM361.9 303.6l-3.0 6.0h6.0zM359.8 323.2l-3.0 6.0h6.0zM351.8 315.7l-3.0 6.0h6.0zM325.0 167.0l-3.0 6.0h6.0zM329.4 328.7l-3.0 6.0h6.0zM314.0 205.9l-3.0 6.0h6.0zM355.3 314.3l-3.0 6.0h6.0zM322.5 177.4l-3.0 6.0h6.0zM354.9 304.4l-3.0 6.0h6.0zM363.7 207.1l-3.0 6.0h6.0zM358.4 188.4l-3.0 6.0h6.0zM336.3 336.8l-3.0 6.0h6.0zM364.5 271.2l-3.0 6.0h6.0zM351.1 181.4l-3.0 6.0h6.0zM300.5 247.2l-3.0 6.0h6.0zM351.6 331.6l-3.0 6.0h6.0zM370.3 260.9l-3.0 6.0h6.0zM356.5 185.8l-3.0 6.0h6.0zM303.6 267.0l-3.0 6.0h6.0zM361.1 305.4l-3.0 6.0h6.0zM338.5 325.4l-3.0 6.0h6.0zM346.2 185.1l-3.0 6.0h6.0zM338.0 332.6l-3.0 6.0h6.0zM305.1 277.4l-3.0 6.0h6.0zM369.4 256.1l-3.0 6.0h6.0zM362.4 214.2l-3.0 6.0h6.0zM298.1 280.8l-3.0 6.0h6.0zM307.4 219.6l-3.0 6.0h6.0zM301.3 248.5l-3.0 6.0h6.0zM311.2 216.4l-3.0 6.0h6.0zM308.0 293.2l-3.0 6.0h6.0zM303.3 268.5l-3.0 6.0h6.0zM317.9 189.6l-3.0 6.0h6.0zM372.1 226.3l-3.0 6.0h6.0zM338.9 320.3l-3.0 6.0h6.0zM335.2 172.9l-3.0 6.0h6.0zM349.1 320.9l-3.0 6.0h6.0zM346.4 322.7l-3.0 6.0h6.0zM366.6 253.3l-3.0 6.0h6.0zM297.4 259.0l-3.0 6.0h6.0zM313.9 300.3l-3.0 6.0h6.0zM355.0 310.2l-3.0 6.0h6.0zM331.4 168.9l-3.0 6.0h6.0zM363.2 217.4l-3.0 6.0h6.0zM318.9 182.4l-3.0 6.0h6.0zM313.9 188.4l-3.0 6.0h6.0zM322.4 174.2l-3.0 6.0h6.0zM304.5 203.1l-3.0 6.0h6.0zM336.5 324.8l-3.0 6.0h6.0zM362.7 211.3l-3.0 6.0h6.0zM314.6 328.3l-3.0 6.0h6.0zM313.2 298.8l-3.0 6.0h6.0zM298.7 233.2l-3.0 6.0h6.0zM332.2 171.1l-3.0 6.0h6.0zM370.0 230.8l-3.0 6.0h6.0zM342.8 332.2l-3.0 6.0h6.0zM346.6 184.2l-3.0 6.0h6.0zM300.3 269.1l-3.0 6.0h6.0zM364.4 216.7l-3.0 6.0h6.0zM331.0 175.5l-3.0 6.0h6.0zM311.7 206.9l-3.0 6.0h6.0zM327.0 174.0l-3.0 6.0h6.0zM306.9 204.6l-3.0 6.0h6.0zM343.2 328.5l-3.0 6.0h6.0zM329.3 172.2l-3.0 6.0h6.0zM367.0 221.0l-3.0 6.0h6.0zM328.0 167.0l-3.0 6.0h6.0zM301.6 224.4l-3.0 6.0h6.0zM374.9 256.6l-3.0 6.0h6.0zM328.5 320.2l-3.0 6.0h6.0zM338.0 170.1l-3.0 6.0h6.0zM346.8 327.5l-3.0 6.0h6.0zM300.2 229.5l-3.0 6.0h6.0zM303.4 232.4l-3.0 6.0h6.0zM361.8 201.3l-3.0 6.0h6.0zM303.2 262.9l-3.0 6.0h6.0zM306.2 217.2l-3.0 6.0h6.0zM313.6 186.4l-3.0 6.0h6.0zM303.3 237.5l-3.0 6.0h6.0zM317.0 172.0l-3.0 6.0h6.0zM306.4 213.7l-3.0 6.0h6.0zM311.3 205.2l-3.0 6.0h6.0zM364.7 295.3l-3.0 6.0h6.0zM367.2 239.4l-3.0 6.0h6.0zM357.8 315.9l-3.0 6.0h6.0zM301.7 263.9l-3.0 6.0h6.0zM369.8 236.4l-3.0 6.0h6.0zM371.2 231.0l-3.0 6.0h6.0zM368.4 284.1l-3.0 6.0h6.0zM353.3 310.7l-3.0 6.0h6.0zM346.5 327.2l-3.0 6.0h6.0zM356.6 312.9l-3.0 6.0h6.0zM310.3 220.5l-3.0 6.0h6.0zM321.1 167.4l-3.0 6.0h6.0zM292.9 252.1l-3.0 6.0h6.0zM304.8 211.5l-3.0 6.0h6.0zM349.3 174.8l-3.0 6.0h6.0zM309.9 200.3l-3.0 6.0h6.0zM367.0 247.5l-3.0 6.0h6.0zM325.5 322.7l-3.0 6.0h6.0zM307.4 294.2l-3.0 6.0h6.0zM363.5 196.5l-3.0 6.0h6.0zM299.1 227.0l-3.0 6.0h6.0zM321.4 319.3l-3.0 6.0h6.0zM323.5 320.3l-3.0 6.0h6.0zM345.5 334.4l-3.0 6.0h6.0zM349.3 320.6l-3.0 6.0h6.0zM300.1 246.1l-3.0 6.0h6.0zM364.6 294.2l-3.0 6.0h6.0zM339.9 329.5l-3.0 6.0h6.0zM368.5 223.4l-3.0 6.0h6.0zM303.0 232.2l-3.0 6.0h6.0zM337.0 158.0l-3.0 6.0h6.0zM340.9 327.7l-3.0 6.0h6.0zM373.2 245.7l-3.0 6.0h6.0zM309.3 192.9l-3.0 6.0h6.0zM308.1 189.2l-3.0 6.0h6.0zM358.7 202.1l-3.0 6.0h6.0zM363.6 222.5l-3.0 6.0h6.0zM318.0 318.5l-3.0 6.0h6.0zM361.9 212.0l-3.0 6.0h6.0zM370.4 223.5l-3.0 6.0h6.0zM317.1 324.1l-3.0 6.0h6.0zM350.3 314.2l-3.0 6.0h6.0zM327.0 171.0l-3.0 6.0h6.0zM322.7 331.0l-3.0 6.0h6.0zM362.9 281.8l-3.0 6.0h6.0zM373.4 257.2l-3.0 6.0h6.0zM323.6 318.3l-3.0 6.0h6.0zM368.6 266.7l-3.0 6.0h6.0zM310.3 192.0l-3.0 6.0h6.0zM338.5 336.4l-3.0 6.0h6.0zM362.1 193.0l-3.0 6.0h6.0zM308.5 299.1l-3.0 6.0h6.0zM310.5 222.3l-3.0 6.0h6.0zM371.6 263.5l-3.0 6.0h6.0zM353.7 184.7l-3.0 6.0h6.0zM301.9 255.7l-3.0 6.0h6.0zM314.3 198.2l-3.0 6.0h6.0zM310.6 318.7l-3.0 6.0h6.0zM304.0 202.5l-3.0 6.0h6.0zM366.6 269.9l-3.0 6.0h6.0zM340.8 160.6l-3.0 6.0h6.0zM352.9 189.2l-3.0 6.0h6.0zM323.0 321.1l-3.0 6.0h6.0zM309.4 296.7l-3.0 6.0h6.0zM320.1 321.5l-3.0 6.0h6.0zM367.1 261.7l-3.0 6.0h6.0zM368.0 260.9l-3.0 6.0h6.0zM366.2 215.6l-3.0 6.0h6.0zM324.3 320.3l-3.0 6.0h6.0zM299.1 287.0l-3.0 6.0h6.0zM309.5 299.2l-3.0 6.0h6.0zM332.3 172.5l-3.0 6.0h6.0zM354.2 302.7l-3.0 6.0h6.0zM363.2 290.6l-3.0 6.0h6.0zM345.1 183.1l-3.0 6.0h6.0zM299.1 289.7l-3.0 6.0h6.0zM364.0 299.5l-3.0 6.0h6.0zM352.7 197.2l-3.0 6.0h6.0zM330.7 325.9l-3.0 6.0h6.0zM370.4 229.7l-3.0 6.0h6.0zM334.6 159.1l-3.0 6.0h6.0zM303.0 278.7l-3.0 6.0h6.0zM359.5 196.5l-3.0 6.0h6.0zM322.3 328.9l-3.0 6.0h6.0zM309.1 287.8l-3.0 6.0h6.0zM351.2 322.2l-3.0 6.0h6.0zM315.8 311.2l-3.0 6.0h6.0zM363.6 273.1l-3.0 6.0h6.0zM348.7 164.8l-3.0 6.0h6.0zM348.4 324.1l-3.0 6.0h6.0zM368.1 238.8l-3.0 6.0h6.0zM323.4 161.3l-3.0 6.0h6.0zM353.3 323.4l-3.0 6.0h6.0zM371.7 235.1l-3.0 6.0h6.0zM314.4 198.0l-3.0 6.0h6.0zM333.6 168.3l-3.0 6.0h6.0zM311.3 192.1l-3.0 6.0h6.0zM345.6 322.7l-3.0 6.0h6.0zM350.1 189.3l-3.0 6.0h6.0zM293.5 249.4l-3.0 6.0h6.0zM307.6 223.7l-3.0 6.0h6.0zM347.0 179.8l-3.0 6.0h6.0zM335.3 324.5l-3.0 6.0h6.0zM347.8 174.7l-3.0 6.0h6.0zM367.7 208.8l-3.0 6.0h6.0zM317.5 309.8l-3.0 6.0h6.0zM363.4 274.6l-3.0 6.0h6.0zM329.3 336.0l-3.0 6.0h6.0zM348.8 159.2l-3.0 6.0h6.0zM360.3 199.2l-3.0 6.0h6.0zM306.9 213.9l-3.0 6.0h6.0zM316.4 185.7l-3.0 6.0h6.0zM352.8 306.9l-3.0 6.0h6.0zM365.7 219.1l-3.0 6.0h6.0zM299.4 265.4l-3.0 6.0h6.0zM368.1 215.8l-3.0 6.0h6.0zM338.1 160.6l-3.0 6.0h6.0zM321.3 158.7l-3.0 6.0h6.0zM301.0 261.4l-3.0 6.0h6.0zM297.8 279.3l-3.0 6.0h6.0zM304.1 247.4l-3.0 6.0h6.0zM313.9 192.1l-3.0 6.0h6.0zM365.5 265.7l-3.0 6.0h6.0zM371.0 252.2l-3.0 6.0h6.0zM365.8 276.2l-3.0 6.0h6.0zM368.1 258.0l-3.0 6.0h6.0zM332.9 332.5l-3.0 6.0h6.0zM370.9 266.0l-3.0 6.0h6.0zM302.9 279.8l-3.0 6.0h6.0zM346.8 181.4l-3.0 6.0h6.0zM319.4 330.0l-3.0 6.0h6.0zM317.4 326.1l-3.0 6.0h6.0zM375.7 245.8l-3.0 6.0h6.0zM361.9 295.8l-3.0 6.0h6.0zM360.9 286.3l-3.0 6.0h6.0zM327.5 170.4l-3.0 6.0h6.0zM318.3 188.6l-3.0 6.0h6.0zM344.4 328.6l-3.0 6.0h6.0zM303.3 285.2l-3.0 6.0h6.0zM365.4 240.1l-3.0 6.0h6.0zM308.9 218.8l-3.0 6.0h6.0zM311.2 196.9l-3.0 6.0h6.0zM348.5 323.8l-3.0 6.0h6.0zM362.8 221.9l-3.0 6.0h6.0zM358.5 201.0l-3.0 6.0h6.0zM346.2 181.5l-3.0 6.0h6.0zM362.2 194.2l-3.0 6.0h6.0zM314.4 201.4l-3.0 6.0h6.0zM318.2 315.0l-3.0 6.0h6.0zM319.9 175.3l-3.0 6.0h6.0zM371.9 273.8l-3.0 6.0h6.0zM366.5 294.9l-3.0 6.0h6.0zM352.7 326.2l-3.0 6.0h6.0zM354.9 195.6l-3.0 6.0h6.0zM303.8 282.0l-3.0 6.0h6.0zM348.5 316.4l-3.0 6.0h6.0zM369.7 265.5l-3.0 6.0h6.0zM301.4 232.4l-3.0 6.0h6.0zM325.1 156.5l-3.0 6.0h6.0zM303.0 281.6l-3.0 6.0h6.0zM373.8 252.9l-3.0 6.0h6.0zM366.8 240.1l-3.0 6.0h6.0zM367.1 300.0l-3.0 6.0h6.0zM351.1 305.3l-3.0 6.0h6.0zM365.0 192.7l-3.0 6.0h6.0zM306.6 222.9l-3.0 6.0h6.0zM338.1 324.0l-3.0 6.0h6.0zM315.1 318.8l-3.0 6.0h6.0zM307.8 196.2l-3.0 6.0h6.0zM297.9 268.1l-3.0 6.0h6.0zM350.9 307.8l-3.0 6.0h6.0zM350.6 190.9l-3.0 6.0h6.0zM367.8 272.7l-3.0 6.0h6.0zM331.8 335.2l-3.0 6.0h6.0zM352.1 182.9l-3.0 6.0h6.0zM309.0 233.2l-3.0 6.0h6.0zM308.7 291.9l-3.0 6.0h6.0zM304.3 281.4l-3.0 6.0h6.0zM317.5 191.3l-3.0 6.0h6.0zM334.2 154.7l-3.0 6.0h6.0zM334.6 165.3l-3.0 6.0h6.0zM312.8 298.0l-3.0 6.0h6.0zM353.9 173.8l-3.0 6.0h6.0zM361.0 284.9l-3.0 6.0h6.0zM369.9 221.2l-3.0 6.0h6.0zM348.7 163.1l-3.0 6.0h6.0zM307.4 289.6l-3.0 6.0h6.0zM373.7 258.6l-3.0 6.0h6.0zM372.2 262.2l-3.0 6.0h6.0zM306.2 226.6l-3.0 6.0h6.0zM345.6 320.0l-3.0 6.0h6.0zM330.1 167.2l-3.0 6.0h6.0zM345.8 336.5l-3.0 6.0h6.0zM346.7 183.2l-3.0 6.0h6.0zM337.6 337.1l-3.0 6.0h6.0zM359.0 187.5l-3.0 6.0h6.0zM304.8 213.9l-3.0 6.0h6.0zM336.9 152.9l-3.0 6.0h6.0zM357.4 188.3l-3.0 6.0h6.0zM347.5 320.7l-3.0 6.0h6.0zM325.2 166.2l-3.0 6.0h6.0zM371.7 270.8l-3.0 6.0h6.0zM303.4 220.9l-3.0 6.0h6.0zM311.0 212.7l-3.0 6.0h6.0zM308.2 210.8l-3.0 6.0h6.0zM372.5 253.1l-3.0 6.0h6.0zM319.5 313.0l-3.0 6.0h6.0zM337.8 153.5l-3.0 6.0h6.0zM301.2 221.8l-3.0 6.0h6.0zM307.2 223.7l-3.0 6.0h6.0zM361.7 298.7l-3.0 6.0h6.0zM369.5 237.0l-3.0 6.0h6.0zM312.9 211.9l-3.0 6.0h6.0zM300.3 284.6l-3.0 6.0h6.0zM305.2 206.5l-3.0 6.0h6.0zM360.8 195.4l-3.0 6.0h6.0zM356.7 295.0l-3.0 6.0h6.0zM301.9 267.8l-3.0 6.0h6.0zM319.6 177.3l-3.0 6.0h6.0zM295.6 256.4l-3.0 6.0h6.0zM314.5 299.2l-3.0 6.0h6.0zM351.4 190.5l-3.0 6.0h6.0zM331.8 166.0l-3.0 6.0h6.0zM315.9 321.2l-3.0 6.0h6.0zM330.4 321.1l-3.0 6.0h6.0zM324.5 172.4l-3.0 6.0h6.0zM307.5 236.7l-3.0 6.0h6.0zM313.9 309.6l-3.0 6.0h6.0zM308.8 218.4l-3.0 6.0h6.0zM354.7 302.9l-3.0 6.0h6.0zM304.8 239.8l-3.0 6.0h6.0zM307.7 228.0l-3.0 6.0h6.0zM366.8 236.8l-3.0 6.0h6.0zM365.3 269.1l-3.0 6.0h6.0zM307.6 288.6l-3.0 6.0h6.0zM365.6 233.4l-3.0 6.0h6.0zM354.7 297.6l-3.0 6.0h6.0zM317.0 321.0l-3.0 6.0h6.0zM351.4 308.2l-3.0 6.0h6.0zM350.7 326.9l-3.0 6.0h6.0zM333.0 163.4l-3.0 6.0h6.0zM311.5 306.2l-3.0 6.0h6.0zM325.6 319.5l-3.0 6.0h6.0zM369.1 246.7l-3.0 6.0h6.0zM347.2 330.5l-3.0 6.0h6.0zM328.3 168.8l-3.0 6.0h6.0zM305.2 238.6l-3.0 6.0h6.0zM369.5 261.2l-3.0 6.0h6.0zM318.8 329.9l-3.0 6.0h6.0zM299.9 279.3l-3.0 6.0h6.0zM311.3 171.6l-3.0 6.0h6.0zM348.6 330.4l-3.0 6.0h6.0zM301.5 255.2l-3.0 6.0h6.0zM300.2 250.2l-3.0 6.0h6.0zM368.2 245.0l-3.0 6.0h6.0zM320.8 175.1l-3.0 6.0h6.0zM340.5 159.7l-3.0 6.0h6.0zM307.9 218.9l-3.0 6.0h6.0zM362.4 210.7l-3.0 6.0h6.0zM319.6 183.0l-3.0 6.0h6.0zM357.2 194.6l-3.0 6.0h6.0zM310.7 298.9l-3.0 6.0h6.0zM314.7 195.5l-3.0 6.0h6.0zM334.9 170.8l-3.0 6.0h6.0zM361.0 193.1l-3.0 6.0h6.0zM363.7 219.5l-3.0 6.0h6.0zM302.3 266.6l-3.0 6.0h6.0zM295.1 258.5l-3.0 6.0h6.0zM352.6 315.0l-3.0 6.0h6.0zM339.4 323.3l-3.0 6.0h6.0zM317.7 189.7l-3.0 6.0h6.0zM302.3 269.4l-3.0 6.0h6.0zM336.8 321.2l-3.0 6.0h6.0zM329.3 177.9l-3.0 6.0h6.0zM300.5 236.1l-3.0 6.0h6.0zM357.6 312.1l-3.0 6.0h6.0zM365.7 238.8l-3.0 6.0h6.0zM338.4 324.4l-3.0 6.0h6.0zM302.8 237.6l-3.0 6.0h6.0zM309.5 220.1l-3.0 6.0h6.0zM333.2 340.5l-3.0 6.0h6.0zM316.5 310.6l-3.0 6.0h6.0zM298.7 241.6l-3.0 6.0h6.0zM373.3 237.9l-3.0 6.0h6.0zM356.2 195.6l-3.0 6.0h6.0zM325.5 175.1l-3.0 6.0h6.0zM337.2 320.2l-3.0 6.0h6.0zM297.9 272.6l-3.0 6.0h6.0zM372.4 256.0l-3.0 6.0h6.0zM299.9 272.9l-3.0 6.0h6.0zM363.5 208.2l-3.0 6.0h6.0zM371.7 240.1l-3.0 6.0h6.0zM333.1 333.0l-3.0 6.0h6.0zM339.9 323.8l-3.0 6.0h6.0zM338.6 322.4l-3.0 6.0h6.0zM303.7 261.6l-3.0 6.0h6.0zM337.6 154.1l-3.0 6.0h6.0zM313.9 312.5l-3.0 6.0h6.0zM368.6 261.4l-3.0 6.0h6.0zM363.6 224.9l-3.0 6.0h6.0zM319.9 173.6l-3.0 6.0h6.0zM368.1 255.1l-3.0 6.0h6.0zM312.2 188.6l-3.0 6.0h6.0zM313.5 182.7l-3.0 6.0h6.0zM303.5 275.6l-3.0 6.0h6.0zM312.5 302.9l-3.0 6.0h6.0zM300.4 261.5l-3.0 6.0h6.0zM315.6 171.3l-3.0 6.0h6.0zM337.7 331.1l-3.0 6.0h6.0zM359.3 287.8l-3.0 6.0h6.0zM368.7 194.7l-3.0 6.0h6.0zM310.2 309.2l-3.0 6.0h6.0zM306.3 236.0l-3.0 6.0h6.0zM367.0 285.9l-3.0 6.0h6.0zM343.7 164.2l-3.0 6.0h6.0zM332.1 163.9l-3.0 6.0h6.0zM343.0 167.4l-3.0 6.0h6.0zM362.6 291.5l-3.0 6.0h6.0zM328.1 326.2l-3.0 6.0h6.0zM354.5 182.0l-3.0 6.0h6.0zM321.1 323.5l-3.0 6.0h6.0zM313.8 169.9l-3.0 6.0h6.0zM343.9 179.2l-3.0 6.0h6.0zM343.1 322.2l-3.0 6.0h6.0zM308.2 221.6l-3.0 6.0h6.0zM301.1 254.3l-3.0 6.0h6.0zM332.2 167.5l-3.0 6.0h6.0zM300.6 290.9l-3.0 6.0h6.0zM314.4 209.7l-3.0 6.0h6.0zM348.1 165.5l-3.0 6.0h6.0zM348.0 322.1l-3.0 6.0h6.0zM366.2 282.0l-3.0 6.0h6.0zM315.2 197.2l-3.0 6.0h6.0zM331.4 167.7l-3.0 6.0h6.0zM334.4 166.9l-3.0 6.0h6.0zM355.1 199.4l-3.0 6.0h6.0zM345.7 334.7l-3.0 6.0h6.0zM303.4 215.8l-3.0 6.0h6.0zM327.2 333.6l-3.0 6.0h6.0zM363.6 234.5l-3.0 6.0h6.0zM300.5 277.6l-3.0 6.0h6.0zM325.4 173.0l-3.0 6.0h6.0zM309.2 291.7l-3.0 6.0h6.0zM295.5 254.1l-3.0 6.0h6.0zM336.5 323.8l-3.0 6.0h6.0zM304.8 284.5l-3.0 6.0h6.0zM312.1 313.6l-3.0 6.0h6.0zM363.9 285.2l-3.0 6.0h6.0zM334.7 321.9l-3.0 6.0h6.0zM308.2 283.9l-3.0 6.0h6.0zM369.0 236.7l-3.0 6.0h6.0zM309.4 296.9l-3.0 6.0h6.0zM369.7 248.0l-3.0 6.0h6.0zM348.3 157.3l-3.0 6.0h6.0zM315.3 304.0l-3.0 6.0h6.0zM367.0 223.8l-3.0 6.0h6.0zM316.8 182.7l-3.0 6.0h6.0zM363.5 226.1l-3.0 6.0h6.0zM310.0 222.3l-3.0 6.0h6.0zM303.4 259.6l-3.0 6.0h6.0zM292.6 265.3l-3.0 6.0h6.0zM346.6 320.7l-3.0 6.0h6.0zM318.7 185.0l-3.0 6.0h6.0zM315.4 194.6l-3.0 6.0h6.0zM322.5 325.1l-3.0 6.0h6.0zM303.0 246.6l-3.0 6.0h6.0zM363.8 284.0l-3.0 6.0h6.0zM368.2 238.2l-3.0 6.0h6.0zM372.7 260.0l-3.0 6.0h6.0zM357.7 289.7l-3.0 6.0h6.0zM326.4 320.2l-3.0 6.0h6.0zM325.3 177.6l-3.0 6.0h6.0zM351.4 309.6l-3.0 6.0h6.0zM305.4 285.3l-3.0 6.0h6.0zM367.8 253.3l-3.0 6.0h6.0zM316.6 319.8l-3.0 6.0h6.0zM321.0 172.0l-3.0 6.0h6.0zM311.8 316.4l-3.0 6.0h6.0zM293.2 263.1l-3.0 6.0h6.0zM313.4 180.9l-3.0 6.0h6.0zM368.9 221.1l-3.0 6.0h6.0zM303.7 264.2l-3.0 6.0h6.0zM331.6 175.9l-3.0 6.0h6.0zM356.9 300.1l-3.0 6.0h6.0zM305.1 205.1l-3.0 6.0h6.0zM347.3 164.7l-3.0 6.0h6.0zM360.7 291.3l-3.0 6.0h6.0zM352.0 184.2l-3.0 6.0h6.0zM305.7 207.4l-3.0 6.0h6.0zM327.6 320.1l-3.0 6.0h6.0zM370.2 259.2l-3.0 6.0h6.0zM292.4 258.3l-3.0 6.0h6.0zM366.4 268.0l-3.0 6.0h6.0zM328.7 177.4l-3.0 6.0h6.0zM294.9 244.8l-3.0 6.0h6.0zM341.9 340.2l-3.0 6.0h6.0zM314.8 325.4l-3.0 6.0h6.0zM349.8 312.4l-3.0 6.0h6.0zM307.8 304.1l-3.0 6.0h6.0zM366.9 241.8l-3.0 6.0h6.0zM307.4 231.8l-3.0 6.0h6.0zM358.6 203.4l-3.0 6.0h6.0zM369.5 289.9l-3.0 6.0h6.0zM320.6 177.9l-3.0 6.0h6.0zM328.6 165.0l-3.0 6.0h6.0zM366.7 234.6l-3.0 6.0h6.0zM309.7 224.6l-3.0 6.0h6.0zM348.3 186.7l-3.0 6.0h6.0zM353.7 192.2l-3.0 6.0h6.0zM301.7 294.7l-3.0 6.0h6.0zM369.2 216.4l-3.0 6.0h6.0zM365.2 217.4l-3.0 6.0h6.0zM347.6 331.3l-3.0 6.0h6.0zM337.7 328.3l-3.0 6.0h6.0zM356.3 295.4l-3.0 6.0h6.0zM345.3 160.6l-3.0 6.0h6.0zM340.3 156.3l-3.0 6.0h6.0zM305.1 287.2l-3.0 6.0h6.0zM344.8 168.5l-3.0 6.0h6.0zM368.5 266.3l-3.0 6.0h6.0zM344.7 173.3l-3.0 6.0h6.0zM318.5 313.8l-3.0 6.0h6.0zM363.7 283.7l-3.0 6.0h6.0zM336.0 331.0l-3.0 6.0h6.0zM304.7 278.2l-3.0 6.0h6.0zM334.8 162.1l-3.0 6.0h6.0zM344.8 323.1l-3.0 6.0h6.0zM347.4 175.3l-3.0 6.0h6.0zM328.6 332.8l-3.0 6.0h6.0zM366.4 274.0l-3.0 6.0h6.0zM314.7 325.5l-3.0 6.0h6.0zM354.8 305.2l-3.0 6.0h6.0zM366.8 241.6l-3.0 6.0h6.0zM300.0 271.7l-3.0 6.0h6.0zM366.7 258.6l-3.0 6.0h6.0zM306.8 280.1l-3.0 6.0h6.0zM325.0 166.4l-3.0 6.0h6.0zM359.4 197.5l-3.0 6.0h6.0zM331.2 174.4l-3.0 6.0h6.0zM347.6 318.6l-3.0 6.0h6.0zM368.6 219.1l-3.0 6.0h6.0zM364.8 208.4l-3.0 6.0h6.0zM325.7 157.7l-3.0 6.0h6.0zM337.4 327.2l-3.0 6.0h6.0zM359.2 182.1l-3.0 6.0h6.0zM305.0 285.1l-3.0 6.0h6.0zM304.3 224.0l-3.0 6.0h6.0zM357.1 302.3l-3.0 6.0h6.0zM314.1 322.9l-3.0 6.0h6.0zM303.0 246.4l-3.0 6.0h6.0zM372.3 235.2l-3.0 6.0h6.0zM293.5 255.5l-3.0 6.0h6.0zM366.6 251.9l-3.0 6.0h6.0zM300.3 274.3l-3.0 6.0h6.0zM313.9 324.4l-3.0 6.0h6.0zM300.4 234.7l-3.0 6.0h6.0zM324.6 156.9l-3.0 6.0h6.0zM298.6 270.1l-3.0 6.0h6.0zM360.9 301.6l-3.0 6.0h6.0zM306.4 201.6l-3.0 6.0h6.0zM375.3 266.4l-3.0 6.0h6.0zM301.2 266.0l-3.0 6.0h6.0zM298.6 242.2l-3.0 6.0h6.0zM339.1 327.0l-3.0 6.0h6.0zM310.4 323.5l-3.0 6.0h6.0zM349.2 191.7l-3.0 6.0h6.0zM342.0 322.5l-3.0 6.0h6.0zM315.5 194.7l-3.0 6.0h6.0zM367.4 262.8l-3.0 6.0h6.0zM299.3 240.2l-3.0 6.0h6.0zM366.8 213.5l-3.0 6.0h6.0zM367.4 272.0l-3.0 6.0h6.0zM299.9 257.5l-3.0 6.0h6.0zM324.6 167.9l-3.0 6.0h6.0zM342.4 164.4l-3.0 6.0h6.0zM373.5 268.8l-3.0 6.0h6.0zM313.2 302.4l-3.0 6.0h6.0zM326.0 328.9l-3.0 6.0h6.0zM326.8 344.9l-3.0 6.0h6.0zM344.1 175.9l-3.0 6.0h6.0zM367.5 268.0l-3.0 6.0h6.0zM369.0 264.7l-3.0 6.0h6.0zM324.8 174.9l-3.0 6.0h6.0zM347.6 174.9l-3.0 6.0h6.0zM354.6 195.2l-3.0 6.0h6.0zM358.3 296.5l-3.0 6.0h6.0zM295.6 261.4l-3.0 6.0h6.0zM325.0 172.9l-3.0 6.0h6.0zM308.2 231.0l-3.0 6.0h6.0zM335.8 150.9l-3.0 6.0h6.0zM299.5 264.9l-3.0 6.0h6.0zM352.9 183.6l-3.0 6.0h6.0zM316.9 319.7l-3.0 6.0h6.0zM333.5 335.7l-3.0 6.0h6.0zM324.5 339.0l-3.0 6.0h6.0zM310.4 208.4l-3.0 6.0h6.0zM312.8 197.8l-3.0 6.0h6.0zM303.3 280.2l-3.0 6.0h6.0zM356.6 302.0l-3.0 6.0h6.0zM300.8 274.9l-3.0 6.0h6.0zM319.7 329.1l-3.0 6.0h6.0zM319.9 313.8l-3.0 6.0h6.0zM343.4 176.0l-3.0 6.0h6.0zM296.0 253.8l-3.0 6.0h6.0zM348.9 322.3l-3.0 6.0h6.0zM294.9 276.5l-3.0 6.0h6.0zM355.6 309.0l-3.0 6.0h6.0zM318.5 169.3l-3.0 6.0h6.0zM303.2 227.9l-3.0 6.0h6.0zM331.4 171.8l-3.0 6.0h6.0zM342.3 157.2l-3.0 6.0h6.0zM326.7 338.7l-3.0 6.0h6.0zM318.6 332.2l-3.0 6.0h6.0zM346.6 333.8l-3.0 6.0h6.0zM311.0 217.1l-3.0 6.0h6.0zM340.9 171.8l-3.0 6.0h6.0zM314.3 310.9l-3.0 6.0h6.0zM360.7 303.9l-3.0 6.0h6.0zM307.3 237.8l-3.0 6.0h6.0zM299.8 249.9l-3.0 6.0h6.0zM307.5 204.8l-3.0 6.0h6.0zM327.2 176.7l-3.0 6.0h6.0zM302.3 214.8l-3.0 6.0h6.0zM361.4 186.6l-3.0 6.0h6.0zM314.9 322.2l-3.0 6.0h6.0zM369.5 258.3l-3.0 6.0h6.0zM322.4 182.5l-3.0 6.0h6.0zM303.5 229.2l-3.0 6.0h6.0zM327.3 327.2l-3.0 6.0h6.0zM325.8 161.3l-3.0 6.0h6.0zM330.9 342.8l-3.0 6.0h6.0zM304.2 282.9l-3.0 6.0h6.0zM346.7 333.3l-3.0 6.0h6.0z"/>
<path d="M341.4 130.8l-3.0 6.0h6.0zM356.5 134.9l-3.0 6.0h6.0zM350.5 143.8l-3.0 6.0h6.0zM373.5 143.8l-3.0 6.0h6.0zM389.4 148.8l-3.0 6.0h6.0zM376.5 154.0l-3.0 6.0h6.0zM383.4 155.7l-3.0 6.0h6.0zM328.2 142.0l-3.0 6.0h6.0zM318.4 148.8l-3.0 6.0h6.0zM328.7 147.8l-3.0 6.0h6.0zM336.4 145.4l-3.0 6.0h6.0zM339.4 148.1l-3.0 6.0h6.0zM344.5 150.6l-3.0 6.0h6.0zM351.6 156.7l-3.0 6.0h6.0zM306.4 158.4l-3.0 6.0h6.0zM303.3 160.8l-3.0 6.0h6.0zM318.3 156.4l-3.0 6.0h6.0zM304.4 168.9l-3.0 6.0h6.0zM314.5 162.4l-3.0 6.0h6.0zM359.3 173.7l-3.0 6.0h6.0zM366.5 172.6l-3.0 6.0h6.0zM364.8 179.5l-3.0 6.0h6.0zM371.4 183.6l-3.0 6.0h6.0zM359.0 180.2l-3.0 6.0h6.0zM349.3 164.6l-3.0 6.0h6.0zM374.7 188.6l-3.0 6.0h6.0zM374.4 189.7l-3.0 6.0h6.0zM382.5 206.7l-3.0 6.0h6.0zM377.4 214.6l-3.0 6.0h6.0zM376.7 222.6l-3.0 6.0h6.0zM371.7 215.6l-3.0 6.0h6.0zM374.7 207.4l-3.0 6.0h6.0zM371.3 204.0l-3.0 6.0h6.0zM371.3 196.8l-3.0 6.0h6.0zM367.2 191.8l-3.0 6.0h6.0zM280.2 226.4l-3.0 6.0h6.0zM285.4 237.6l-3.0 6.0h6.0zM289.7 219.2l-3.0 6.0h6.0zM291.3 201.3l-3.0 6.0h6.0zM291.8 207.4l-3.0 6.0h6.0zM297.9 194.5l-3.0 6.0h6.0zM304.0 193.1l-3.0 6.0h6.0zM296.5 208.1l-3.0 6.0h6.0zM293.8 212.8l-3.0 6.0h6.0zM294.5 225.1l-3.0 6.0h6.0zM298.6 225.8l-3.0 6.0h6.0zM378.4 238.7l-3.0 6.0h6.0zM381.5 238.7l-3.0 6.0h6.0zM385.3 244.8l-3.0 6.0h6.0zM292.4 246.2l-3.0 6.0h6.0zM294.5 240.0l-3.0 6.0h6.0zM390.5 259.8l-3.0 6.0h6.0zM382.5 263.6l-3.0 6.0h6.0zM377.4 263.6l-3.0 6.0h6.0zM374.7 258.1l-3.0 6.0h6.0zM376.1 279.9l-3.0 6.0h6.0zM378.1 284.0l-3.0 6.0h6.0zM373.3 302.6l-3.0 6.0h6.0zM271.4 307.1l-3.0 6.0h6.0zM287.3 307.8l-3.0 6.0h6.0zM292.4 312.5l-3.0 6.0h6.0zM295.2 291.4l-3.0 6.0h6.0zM299.2 290.1l-3.0 6.0h6.0zM294.5 271.0l-3.0 6.0h6.0zM292.4 281.2l-3.0 6.0h6.0zM297.9 309.1l-3.0 6.0h6.0zM299.9 317.3l-3.0 6.0h6.0zM303.3 315.2l-3.0 6.0h6.0zM363.8 305.7l-3.0 6.0h6.0zM360.4 314.6l-3.0 6.0h6.0zM251.4 341.9l-3.0 6.0h6.0zM268.4 339.8l-3.0 6.0h6.0zM276.3 346.7l-3.0 6.0h6.0zM288.4 336.6l-3.0 6.0h6.0zM290.5 338.7l-3.0 6.0h6.0zM285.5 349.4l-3.0 6.0h6.0zM284.3 351.7l-3.0 6.0h6.0zM280.4 379.7l-3.0 6.0h6.0zM300.5 328.9l-3.0 6.0h6.0zM303.5 322.7l-3.0 6.0h6.0zM299.4 317.9l-3.0 6.0h6.0zM309.2 353.8l-3.0 6.0h6.0zM311.9 353.8l-3.0 6.0h6.0zM317.2 354.4l-3.0 6.0h6.0zM319.5 356.7l-3.0 6.0h6.0zM318.5 344.1l-3.0 6.0h6.0zM321.1 343.3l-3.0 6.0h6.0zM324.3 341.0l-3.0 6.0h6.0zM316.7 334.3l-3.0 6.0h6.0zM320.8 332.7l-3.0 6.0h6.0zM331.5 336.6l-3.0 6.0h6.0zM333.8 340.1l-3.0 6.0h6.0zM339.5 336.6l-3.0 6.0h6.0zM342.7 341.4l-3.0 6.0h6.0zM346.6 338.4l-3.0 6.0h6.0zM351.0 337.5l-3.0 6.0h6.0zM356.7 337.5l-3.0 6.0h6.0zM356.4 333.4l-3.0 6.0h6.0zM362.3 332.7l-3.0 6.0h6.0zM360.8 322.7l-3.0 6.0h6.0zM339.5 347.8l-3.0 6.0h6.0zM342.1 352.6l-3.0 6.0h6.0zM340.4 355.8l-3.0 6.0h6.0zM348.4 355.3l-3.0 6.0h6.0zM352.3 357.6l-3.0 6.0h6.0zM357.4 349.4l-3.0 6.0h6.0zM347.5 363.6l-3.0 6.0h6.0zM344.5 365.6l-3.0 6.0h6.0zM362.3 365.4l-3.0 6.0h6.0zM357.3 382.9l-3.0 6.0h6.0zM350.5 406.1l-3.0 6.0h6.0zM342.4 419.9l-3.0 6.0h6.0zM244.5 304.1l-3.0 6.0h6.0zM292.9 282.2l-3.0 6.0h6.0zM300.2 327.5l-3.0 6.0h6.0zM303.3 322.3l-3.0 6.0h6.0z"/>
</g>
<g stroke="#000" stroke-width="1" stroke-dasharray="3 1" stroke-dashoffset="0.5">
<line x1="95.0" y1="232.5" x2="563.0" y2="232.5"/>
<line x1="329.5" y1="20.5" x2="329.5" y2="445.0" stroke-dashoffset="0"/>
</g>
</g>
<g shape-rendering="crispEdges">
<rect x="94" y="20" width="470" height="1" fill="#000"/>
<rect x="563" y="20" width="1" height="426" fill="#000"/>
<rect x="564" y="232" width="1" height="1" fill="#000"/>
</g>
<line x1="94.5" y1="20" x2="94.5" y2="446.4" stroke="#404040" stroke-width="2"/>
<line x1="93.5" y1="445.4" x2="564.8" y2="445.4" stroke="#404040" stroke-width="2"/>
<g stroke="#b8b8b8" stroke-width="1" shape-rendering="crispEdges"><line x1="91" y1="441.5" x2="94" y2="441.5"/><line x1="91" y1="435.5" x2="94" y2="435.5"/><line x1="91" y1="429.5" x2="94" y2="429.5"/><line x1="89" y1="423.5" x2="95" y2="423.5"/><line x1="91" y1="417.5" x2="94" y2="417.5"/><line x1="91" y1="411.5" x2="94" y2="411.5"/><line x1="91" y1="405.5" x2="94" y2="405.5"/><line x1="89" y1="399.5" x2="95" y2="399.5"/><line x1="91" y1="393.5" x2="94" y2="393.5"/><line x1="91" y1="387.5" x2="94" y2="387.5"/><line x1="91" y1="381.5" x2="94" y2="381.5"/><line x1="89" y1="375.5" x2="95" y2="375.5"/><line x1="91" y1="369.5" x2="94" y2="369.5"/><line x1="91" y1="363.5" x2="94" y2="363.5"/><line x1="91" y1="357.5" x2="94" y2="357.5"/><line x1="89" y1="351.5" x2="95" y2="351.5"/><line x1="91" y1="345.5" x2="94" y2="345.5"/><line x1="91" y1="339.5" x2="94" y2="339.5"/><line x1="91" y1="334.5" x2="94" y2="334.5"/><line x1="89" y1="328.5" x2="95" y2="328.5"/><line x1="91" y1="322.5" x2="94" y2="322.5"/><line x1="91" y1="316.5" x2="94" y2="316.5"/><line x1="91" y1="310.5" x2="94" y2="310.5"/><line x1="89" y1="304.5" x2="95" y2="304.5"/><line x1="91" y1="298.5" x2="94" y2="298.5"/><line x1="91" y1="292.5" x2="94" y2="292.5"/><line x1="91" y1="286.5" x2="94" y2="286.5"/><line x1="89" y1="280.5" x2="95" y2="280.5"/><line x1="91" y1="274.5" x2="94" y2="274.5"/><line x1="91" y1="268.5" x2="94" y2="268.5"/><line x1="91" y1="262.5" x2="94" y2="262.5"/><line x1="89" y1="256.5" x2="95" y2="256.5"/><line x1="91" y1="250.5" x2="94" y2="250.5"/><line x1="91" y1="244.5" x2="94" y2="244.5"/><line x1="91" y1="238.5" x2="94" y2="238.5"/><line x1="89" y1="232.5" x2="95" y2="232.5"/><line x1="91" y1="226.5" x2="94" y2="226.5"/><line x1="91" y1="220.5" x2="94" y2="220.5"/><line x1="91" y1="215.5" x2="94" y2="215.5"/><line x1="89" y1="209.5" x2="95" y2="209.5"/><line x1="91" y1="203.5" x2="94" y2="203.5"/><line x1="91" y1="197.5" x2="94" y2="197.5"/><line x1="91" y1="191.5" x2="94" y2="191.5"/><line x1="89" y1="185.5" x2="95" y2="185.5"/><line x1="91" y1="179.5" x2="94" y2="179.5"/><line x1="91" y1="173.5" x2="94" y2="173.5"/><line x1="91" y1="167.5" x2="94" y2="167.5"/><line x1="89" y1="161.5" x2="95" y2="161.5"/><line x1="91" y1="155.5" x2="94" y2="155.5"/><line x1="91" y1="149.5" x2="94" y2="149.5"/><line x1="91" y1="143.5" x2="94" y2="143.5"/><line x1="89" y1="137.5" x2="95" y2="137.5"/><line x1="91" y1="131.5" x2="94" y2="131.5"/><line x1="91" y1="125.5" x2="94" y2="125.5"/><line x1="91" y1="120.5" x2="94" y2="120.5"/><line x1="89" y1="114.5" x2="95" y2="114.5"/><line x1="91" y1="108.5" x2="94" y2="108.5"/><line x1="91" y1="102.5" x2="94" y2="102.5"/><line x1="91" y1="96.5" x2="94" y2="96.5"/><line x1="89" y1="90.5" x2="95" y2="90.5"/><line x1="91" y1="84.5" x2="94" y2="84.5"/><line x1="91" y1="78.5" x2="94" y2="78.5"/><line x1="91" y1="72.5" x2="94" y2="72.5"/><line x1="89" y1="66.5" x2="95" y2="66.5"/><line x1="91" y1="60.5" x2="94" y2="60.5"/><line x1="91" y1="54.5" x2="94" y2="54.5"/><line x1="91" y1="48.5" x2="94" y2="48.5"/><line x1="89" y1="42.5" x2="95" y2="42.5"/><line x1="91" y1="36.5" x2="94" y2="36.5"/><line x1="91" y1="30.5" x2="94" y2="30.5"/><line x1="91" y1="24.5" x2="94" y2="24.5"/><line x1="106.5" y1="446" x2="106.5" y2="449"/><line x1="123.5" y1="445" x2="123.5" y2="451"/><line x1="140.5" y1="446" x2="140.5" y2="449"/><line x1="157.5" y1="446" x2="157.5" y2="449"/><line x1="175.5" y1="446" x2="175.5" y2="449"/><line x1="192.5" y1="445" x2="192.5" y2="451"/><line x1="209.5" y1="446" x2="209.5" y2="449"/><line x1="226.5" y1="446" x2="226.5" y2="449"/><line x1="244.5" y1="446" x2="244.5" y2="449"/><line x1="260.5" y1="445" x2="260.5" y2="451"/><line x1="277.5" y1="446" x2="277.5" y2="449"/><line x1="294.5" y1="446" x2="294.5" y2="449"/><line x1="312.5" y1="446" x2="312.5" y2="449"/><line x1="329.5" y1="445" x2="329.5" y2="451"/><line x1="346.5" y1="446" x2="346.5" y2="449"/><line x1="363.5" y1="446" x2="363.5" y2="449"/><line x1="381.5" y1="446" x2="381.5" y2="449"/><line x1="398.5" y1="445" x2="398.5" y2="451"/><line x1="415.5" y1="446" x2="415.5" y2="449"/><line x1="432.5" y1="446" x2="432.5" y2="449"/><line x1="450.5" y1="446" x2="450.5" y2="449"/><line x1="466.5" y1="445" x2="466.5" y2="451"/><line x1="483.5" y1="446" x2="483.5" y2="449"/><line x1="500.5" y1="446" x2="500.5" y2="449"/><line x1="518.5" y1="446" x2="518.5" y2="449"/><line x1="535.5" y1="445" x2="535.5" y2="451"/><line x1="552.5" y1="446" x2="552.5" y2="449"/></g>
<g><text x="84.9" y="427.1" text-anchor="end" dx="0 0.8">-0,016</text><text x="84.9" y="403.1" text-anchor="end" dx="0 0.8">-0,014</text><text x="84.9" y="379.1" text-anchor="end" dx="0 0.8">-0,012</text><text x="84.9" y="355.1" text-anchor="end" dx="0 0.8">-0,01</text><text x="84.9" y="332.1" text-anchor="end" dx="0 0.8">-0,008</text><text x="84.9" y="308.1" text-anchor="end" dx="0 0.8">-0,006</text><text x="84.9" y="284.1" text-anchor="end" dx="0 0.8">-0,004</text><text x="84.9" y="260.1" text-anchor="end" dx="0 0.8">-0,002</text><text x="84.9" y="236.1" text-anchor="end">0</text><text x="84.9" y="213.1" text-anchor="end">0,002</text><text x="84.9" y="189.1" text-anchor="end">0,004</text><text x="84.9" y="165.1" text-anchor="end">0,006</text><text x="84.9" y="141.1" text-anchor="end">0,008</text><text x="84.9" y="118.1" text-anchor="end">0,01</text><text x="84.9" y="94.1" text-anchor="end">0,012</text><text x="84.9" y="70.1" text-anchor="end">0,014</text><text x="84.9" y="46.1" text-anchor="end">0,016</text><text x="123.5" y="463" text-anchor="middle" dx="0 0.8">-0,03</text><text x="192.5" y="463" text-anchor="middle" dx="0 0.8">-0,02</text><text x="260.5" y="463" text-anchor="middle" dx="0 0.8">-0,01</text><text x="329.5" y="463" text-anchor="middle">0</text><text x="398.5" y="463" text-anchor="middle">0,01</text><text x="466.5" y="463" text-anchor="middle">0,02</text><text x="535.5" y="463" text-anchor="middle">0,03</text></g>
<g class="ls">
<text x="329.9" y="477" text-anchor="middle" style="letter-spacing:0.29px">Δ Easting [m]</text>
<text transform="translate(39.8,231.5) rotate(-90)" text-anchor="middle" style="letter-spacing:0.27px">Δ Northing [m]</text>
</g>
<rect x="595.6" y="69.4" width="332.8" height="70.8" fill="#000"/>
<rect x="592.5" y="66.5" width="333" height="71" fill="#fff" stroke="#808080" stroke-width="1" shape-rendering="crispEdges"/>
<path d="M613.5 70.5l-4.2 8h8.4z" fill="#0000ff"/>
<g stroke-width="2" stroke-dasharray="6 2" fill="none">
<line x1="597.6" y1="88.5" x2="628" y2="88.5" stroke="#ff0000"/>
<line x1="597.6" y1="102.5" x2="628" y2="102.5" stroke="#ffff00"/>
<line x1="597.6" y1="116.5" x2="628" y2="116.5" stroke="#008000"/>
</g>
<path d="M613.5 127.5l-3 6h6z" fill="#0000ff"/>
<g class="ls">
<text x="636.2" y="78">rtk engine [femern_vrs]_rri1 (Fixed or converged)</text>
<text x="636.2" y="92">0.100 m</text>
<text x="636.2" y="106">0.050 m</text>
<text x="636.2" y="120">0.020 m</text>
<text x="636.2" y="134">rtk engine [femern_vrs]_rri1 (Fixed or converged)</text>
</g>
</svg>
</body>
</html>
